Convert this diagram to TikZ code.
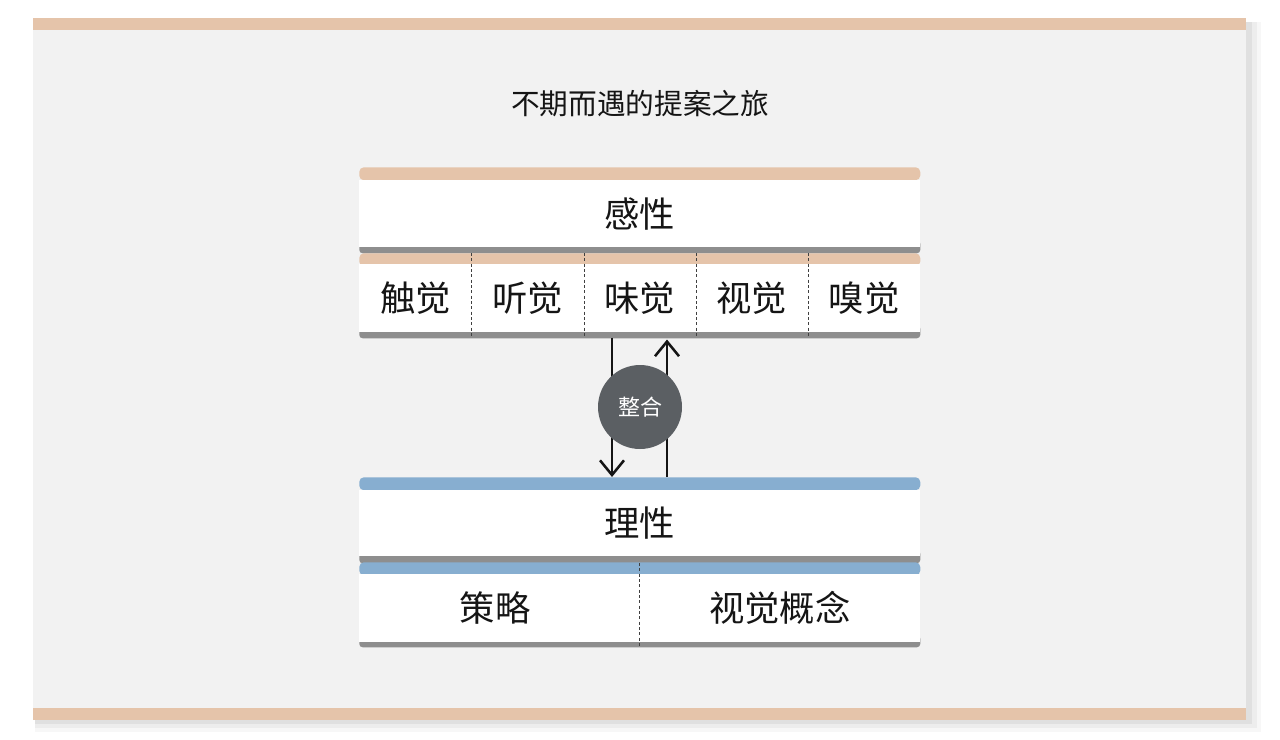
\documentclass[tikz,border=0pt]{standalone}
\usepackage{fontspec}
\newfontfamily\cjk{Noto Sans CJK SC}
\usetikzlibrary{arrows.meta}
\definecolor{panelbg}{HTML}{F2F2F2}
\definecolor{beige}{HTML}{E5C4AA}
\definecolor{blueband}{HTML}{87AED0}
\definecolor{barg}{HTML}{8E8E8E}
\definecolor{circ}{HTML}{5B5F63}
\definecolor{ink}{HTML}{151515}
\newcommand\pxu{0.75pt}
\begin{document}
\begin{tikzpicture}[x=0.75pt,y=-0.75pt,
  stripbox/.style={inner sep=0pt, rounded corners=3.5pt, minimum height=13*\pxu, anchor=north west},
  barbox/.style={fill=barg, inner sep=0pt, rounded corners=2.5pt, anchor=north west},
  cardfont/.style={text=ink, font=\cjk\fontsize{26.5}{30}\selectfont},
  card/.style={fill=white, inner sep=0pt, anchor=north west, cardfont},
  divider/.style={dash pattern=on 2.2pt off 1.8pt, line width=0.55pt, draw=black!75},
  arr/.style={line width=1.9pt, draw=ink, -{Straight Barb[length=11pt,width=18pt,line width=1.9pt]}}
]
\useasboundingbox (0,0) rectangle (1280,739);
\fill[white] (0,0) rectangle (1280,739);
% shadow of the panel
\fill[black, opacity=0.03] (35,22) rectangle (1261,732);
\fill[black, opacity=0.04] (35,22) rectangle (1257,728);
\fill[black, opacity=0.05] (35,22) rectangle (1252,724);
% panel
\fill[panelbg] (33,30) rectangle (1246,708);
\fill[beige] (33,18) rectangle (1246,30);
\fill[beige] (33,708) rectangle (1246,720);

% title
\node[font=\cjk\fontsize{21.5}{26}\selectfont, text=ink] (title) at (640,104) {不期而遇的提案之旅};

% ===== upper block =====
\node[stripbox, fill=beige, minimum width=561*\pxu] (gstrip) at (359,167) {};
\node[barbox, minimum width=561*\pxu, minimum height=13*\pxu] (gbar) at (359,240) {};
\node[card, minimum width=561*\pxu, minimum height=67*\pxu] (gan) at (359,180) {感性};

\node[stripbox, fill=beige, minimum width=561*\pxu] (sstrip) at (359,253) {};
\node[barbox, minimum width=561*\pxu, minimum height=13*\pxu] (sbar) at (359,325) {};
\node[card, minimum width=112.2*\pxu, minimum height=68*\pxu] (chu) at (359,264) {触觉};
\node[card, minimum width=112.2*\pxu, minimum height=68*\pxu] (ting) at (471.2,264) {听觉};
\node[card, minimum width=112.2*\pxu, minimum height=68*\pxu] (wei) at (583.4,264) {味觉};
\node[card, minimum width=112.2*\pxu, minimum height=68*\pxu] (shi) at (695.6,264) {视觉};
\node[card, minimum width=112.2*\pxu, minimum height=68*\pxu] (xiu) at (807.8,264) {嗅觉};
\foreach \a in {chu,ting,wei,shi}{
  \draw[divider] ([yshift=11*\pxu]\a.north east) -- ([yshift=-5*\pxu]\a.south east);
}

% ===== lower block =====
\node[stripbox, fill=blueband, minimum width=561*\pxu] (lstrip) at (359,477) {};
\node[barbox, minimum width=561*\pxu, minimum height=13*\pxu] (lbar) at (359,550) {};
\node[card, minimum width=561*\pxu, minimum height=66*\pxu] (li) at (359,490) {理性};

\node[stripbox, fill=blueband, minimum width=561*\pxu] (cstrip) at (359,562) {};
\node[barbox, minimum width=561*\pxu, minimum height=12*\pxu] (cbar) at (359,635) {};
\node[card, minimum width=280*\pxu, minimum height=68*\pxu] (ce) at (359,574) {};
\node[cardfont] (celabel) at ([xshift=-4*\pxu]ce.center) {策略};
\node[card, minimum width=281*\pxu, minimum height=68*\pxu] (gn) at (639,574) {视觉概念};
\draw[divider] ([yshift=11*\pxu]ce.north east) -- ([yshift=-5*\pxu]ce.south east);

% ===== arrows and circle =====
\coordinate (ax1) at (612,0);
\coordinate (ax2) at (667,0);
\draw[arr] ([yshift=-5*\pxu]wei.south -| ax1) -- (lstrip.north -| ax1);
\draw[arr] (lstrip.north -| ax2) -- ([yshift=-7*\pxu]wei.south -| ax2);
\node[circle, fill=circ, minimum size=84*\pxu, inner sep=0pt, text=white, font=\cjk\fontsize{16.5}{20}\selectfont] (zh) at (640,407) {整合};
\end{tikzpicture}
\end{document}
